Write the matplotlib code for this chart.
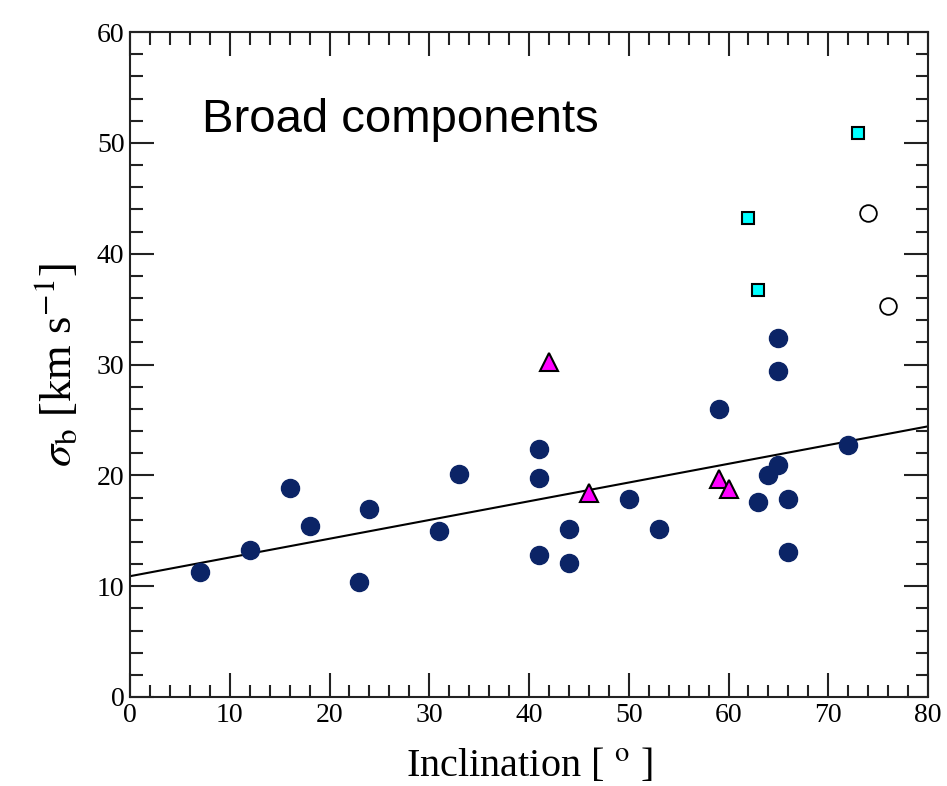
import matplotlib
matplotlib.use('Agg')
import matplotlib.pyplot as plt
import numpy as np
from matplotlib.ticker import MultipleLocator

# data
incl_main = [7, 12, 16, 18, 23, 24, 31, 33, 41, 41, 41, 44, 44, 50, 53, 59,
             63, 64, 65, 65, 65, 66, 66, 72]
sig_main = [11.3, 13.3, 18.9, 15.4, 10.4, 17.0, 15.0, 20.1, 22.4, 19.8, 12.8,
            15.2, 12.1, 17.9, 15.2, 26.0, 17.6, 20.0, 20.9, 32.4, 29.4, 17.9,
            13.1, 22.7]
incl_tri = [42, 46, 59, 60]
sig_tri = [30.2, 18.4, 19.7, 18.8]
incl_sq = [62, 63, 73]
sig_sq = [43.2, 36.7, 50.9]
incl_open = [74, 76]
sig_open = [43.7, 35.3]

fit_intercept = 10.9
fit_slope = 0.169

plt.rcParams['font.family'] = ['Liberation Serif', 'DejaVu Serif']
plt.rcParams['mathtext.fontset'] = 'stix'

fig = plt.figure(figsize=(9.47, 7.86), dpi=100)
ax = fig.add_axes([130 / 947, 1 - 697 / 786, 798 / 947, 665 / 786])

xx = np.array([0, 80])
ax.plot(xx, fit_intercept + fit_slope * xx, color='black', lw=1.5, zorder=2)

ax.plot(incl_main, sig_main, 'o', ms=13, color='#0b2466', mec='#0b2466', zorder=3)
ax.plot(incl_tri, sig_tri, '^', ms=13, color='#ff00ff', mec='black', mew=1.5, zorder=3)
ax.plot(incl_sq, sig_sq, 's', ms=9, color='#00ffff', mec='black', mew=1.5, zorder=3)
ax.plot(incl_open, sig_open, 'o', ms=12, mfc='white', mec='black', mew=1.3, zorder=3)

ax.set_xlim(0, 80)
ax.set_ylim(0, 60)
ax.xaxis.set_major_locator(MultipleLocator(10))
ax.xaxis.set_minor_locator(MultipleLocator(2))
ax.yaxis.set_major_locator(MultipleLocator(10))
ax.yaxis.set_minor_locator(MultipleLocator(2))
ax.tick_params(which='both', direction='in', top=True, right=True, width=1.5,
               labelsize=20, colors='#222222', labelcolor='black')
ax.tick_params(which='major', length=17, pad=4)
ax.tick_params(which='minor', length=9)
for s in ax.spines.values():
    s.set_linewidth(1.5)
    s.set_color('#222222')

ax.set_xlabel(r'Inclination [ $^{\rm o}$ ]', fontsize=29, labelpad=14)
ax.set_ylabel(r'$\sigma_{\rm b}$ [km s$^{-1}$]', fontsize=32, labelpad=12)

ax.text(7.2, 52.1, 'Broad components', family='Liberation Sans', fontsize=34,
        ha='left', va='center')

fig.savefig('out.png', dpi=100)
